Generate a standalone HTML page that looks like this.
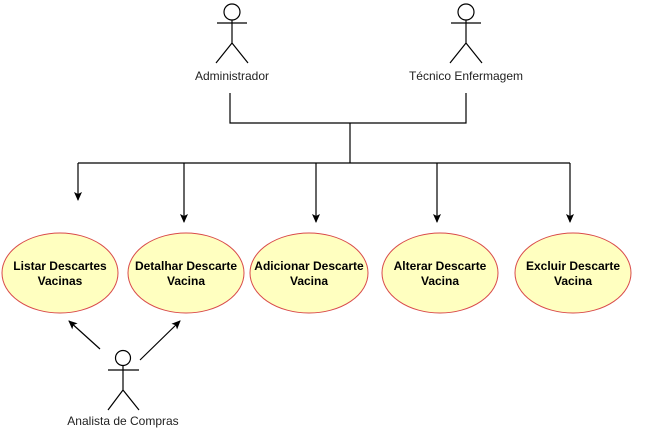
<!DOCTYPE html>
<html><head><style>body{margin:0;background:#fff}svg{display:block}</style></head><body>
<svg width="648" height="440" xmlns="http://www.w3.org/2000/svg" font-family="Liberation Sans, sans-serif">
<defs><marker id="a" markerWidth="10" markerHeight="10" refX="8" refY="5" orient="auto" markerUnits="userSpaceOnUse"><path d="M0,1 L9,5 L0,9 L2,5 Z" fill="#000"/></marker></defs>
<g stroke="#000" stroke-width="1.2" fill="none">
<circle cx="232" cy="12" r="8" fill="#fff"/><path d="M232 20V43M217 23H247M232 43L216 63M232 43L248 63"/>
<circle cx="466" cy="12" r="8" fill="#fff"/><path d="M466 20V43M451 23H481M466 43L450 63M466 43L482 63"/>
<circle cx="123" cy="358" r="7.5" fill="#fff"/><path d="M123 366V390M108 370H139M123 390L108 410M123 390L139 410"/>
<path d="M230 93V123H466V93M350 123V163M78 163H570"/>
<path d="M78 163V200" marker-end="url(#a)"/>
<path d="M184 163V222" marker-end="url(#a)"/>
<path d="M316 163V222" marker-end="url(#a)"/>
<path d="M437 163V222" marker-end="url(#a)"/>
<path d="M570 163V222" marker-end="url(#a)"/>
<path d="M100 349L69 321" marker-end="url(#a)"/>
<path d="M140 360L180 321" marker-end="url(#a)"/>
</g>
<g fill="#ffffc0" stroke="#d94b4b" stroke-width="1">
<ellipse cx="60" cy="273" rx="58" ry="40"/>
<ellipse cx="186" cy="273" rx="58" ry="40"/>
<ellipse cx="309" cy="273" rx="59" ry="40"/>
<ellipse cx="440" cy="273" rx="58" ry="40"/>
<ellipse cx="573" cy="273" rx="58" ry="40"/>
</g>
<g font-size="12" font-weight="bold" text-anchor="middle" fill="#000">
<text x="60" y="270">Listar Descartes</text><text x="60" y="285">Vacinas</text>
<text x="186" y="270">Detalhar Descarte</text><text x="186" y="285">Vacina</text>
<text x="309" y="270">Adicionar Descarte</text><text x="309" y="285">Vacina</text>
<text x="440" y="270">Alterar Descarte</text><text x="440" y="285">Vacina</text>
<text x="573" y="270">Excluir Descarte</text><text x="573" y="285">Vacina</text>
</g>
<g font-size="12" text-anchor="middle" fill="#222">
<text x="232" y="80">Administrador</text>
<text x="466" y="80">Técnico Enfermagem</text>
<text x="123" y="425">Analista de Compras</text>
</g>
</svg>
</body></html>
